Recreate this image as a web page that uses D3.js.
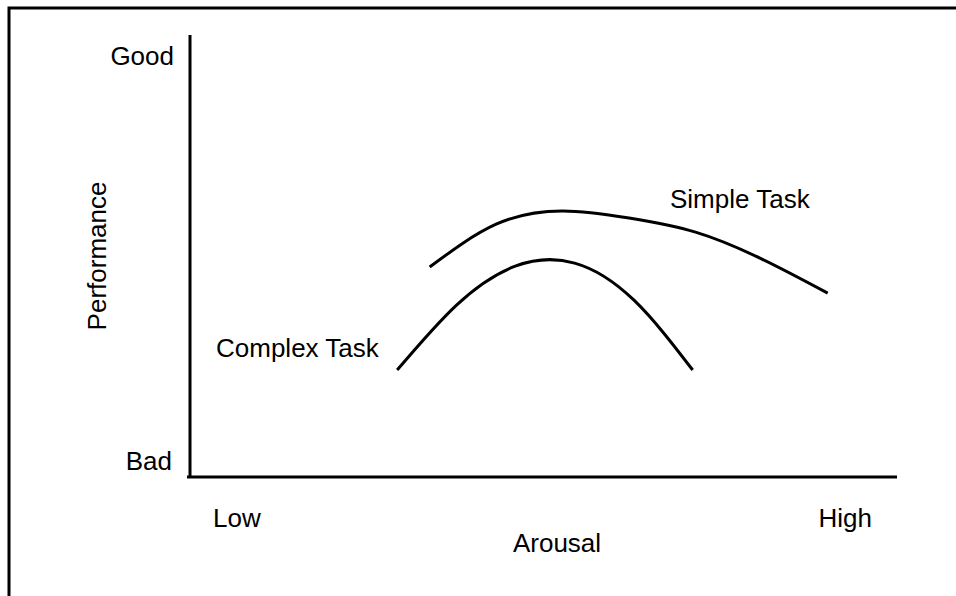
<html>
<head>
    <title>Arousal and Performance</title>
    <script src="https://cdn.jsdelivr.net/npm/d3@7"></script>
    <style>
        body { margin: 0; background: #fff; }
        text { font-family: "Liberation Sans", Arial, sans-serif; fill: #000; font-size: 26px; }
    </style>
</head>
<body>
    <svg width="956" height="596"></svg>

    <script>
        // curve points (arousal 0-100, performance 0-100)
        const simpleX = [33.9, 43.3, 52.7, 62.1, 71.5, 80.9, 90.2];
        const simpleY = [47.5, 57.2, 60.2, 58.6, 55.4, 49.3, 41.6];
        const complexX = [29.3, 37.7, 46.0, 54.4, 62.8, 71.1];
        const complexY = [24.2, 38.9, 47.7, 48.4, 40.0, 24.2];

        const yTickLabels = ['Bad', 'Good'];
        const xTickLabels = ['Low', 'High'];

        const svg = d3.select('svg');

        const plotLeft = 190, plotRight = 897, plotTop = 35, plotBottom = 477;

        const xScale = d3.scaleLinear().domain([0, 100]).range([plotLeft, plotRight]);
        const yScale = d3.scaleLinear().domain([0, 100]).range([plotBottom, plotTop]);

        // frame round the whole figure
        svg.append('path')
            .attr('d', `M9,596 L9,8 L956,8`)
            .attr('fill', 'none')
            .attr('stroke', '#000')
            .attr('stroke-width', 3);

        // axes
        svg.append('line')
            .attr('x1', xScale(0)).attr('x2', xScale(0))
            .attr('y1', yScale(100)).attr('y2', yScale(0))
            .attr('stroke', '#000').attr('stroke-width', 3);
        svg.append('line')
            .attr('x1', xScale(0) - 3).attr('x2', xScale(100))
            .attr('y1', yScale(0)).attr('y2', yScale(0))
            .attr('stroke', '#000').attr('stroke-width', 3);

        // end labels
        svg.append('text').attr('x', 172).attr('y', 470)
            .attr('text-anchor', 'end').text(yTickLabels[0]);
        svg.append('text').attr('x', 174).attr('y', 65)
            .attr('text-anchor', 'end').text(yTickLabels[1]);
        svg.append('text').attr('x', 213).attr('y', 527)
            .text(xTickLabels[0]);
        svg.append('text').attr('x', 872).attr('y', 527)
            .attr('text-anchor', 'end').text(xTickLabels[1]);

        // axis titles
        svg.append('text').attr('x', 557).attr('y', 552)
            .attr('text-anchor', 'middle').text('Arousal');
        svg.append('text')
            .attr('transform', 'translate(106,256) rotate(-90)')
            .attr('text-anchor', 'middle').text('Performance');

        // points are evenly spaced along x, so a natural spline stays smooth
        const line = d3.line()
            .x(d => xScale(d[0]))
            .y(d => yScale(d[1]))
            .curve(d3.curveNatural);

        const simple = simpleX.map((x, i) => [x, simpleY[i]]);
        const complex = complexX.map((x, i) => [x, complexY[i]]);

        svg.append('path').datum(simple)
            .attr('d', line)
            .attr('fill', 'none').attr('stroke', '#000').attr('stroke-width', 3);
        svg.append('path').datum(complex)
            .attr('d', line)
            .attr('fill', 'none').attr('stroke', '#000').attr('stroke-width', 3);

        // curve labels
        svg.append('text').attr('x', 670).attr('y', 208)
            .text('Simple Task');
        svg.append('text').attr('x', 216).attr('y', 357)
            .text('Complex Task');
    </script>
</body>
</html>
